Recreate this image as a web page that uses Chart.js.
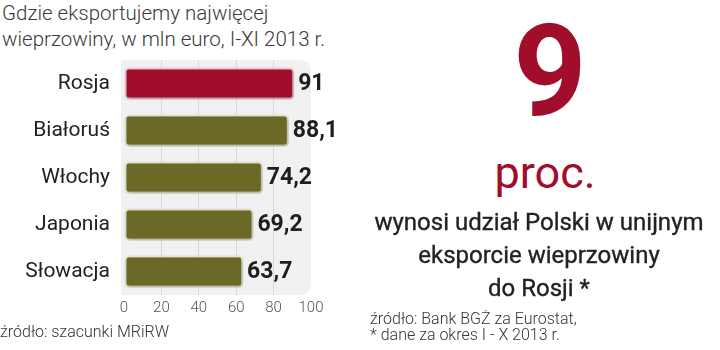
<!DOCTYPE html>
<html lang="pl">
<head>
<meta charset="utf-8">
<script src="https://cdn.jsdelivr.net/npm/chart.js@4/dist/chart.umd.min.js"></script>
<style>
  html, body { margin: 0; padding: 0; background: #fff; }
  #wrap { position: relative; width: 720px; height: 350px; overflow: hidden; font-family: Roboto, "Liberation Sans", sans-serif; }
  #chartBox { position: absolute; left: 0; top: 0; width: 360px; height: 350px; }
  .title { position: absolute; left: 2px; top: 0px; font-size: 20.5px; font-weight: 300; color: #3a3a3a; line-height: 26px; white-space: nowrap; }
  .srcL { position: absolute; left: 0; top: 322px; font-size: 16px; font-weight: 300; color: #333; white-space: nowrap; }
  .big { position: absolute; left: 440px; width: 220px; text-align: center; top: 6px; font-size: 128px; line-height: 130px; font-weight: 700; color: #a20d2b; font-family: "Liberation Sans Narrow", Roboto, sans-serif; }
  .proc { position: absolute; left: 445px; width: 200px; text-align: center; top: 147px; font-size: 45px; line-height: 52px; font-weight: 400; color: #a20d2b; font-family: "Liberation Sans Narrow", Roboto, sans-serif; }
  .desc { position: absolute; left: 359px; width: 360px; text-align: center; top: 206px; font-size: 24px; line-height: 33px; font-weight: 400; color: #222; white-space: nowrap; -webkit-text-stroke: 0.35px #222; }
  .srcR { position: absolute; left: 370px; top: 311px; font-size: 16px; line-height: 16px; font-weight: 300; color: #333; white-space: nowrap; }
</style>
</head>
<body>
<div id="wrap">
  <div class="title">Gdzie eksportujemy najwięcej<br>wieprzowiny, w mln euro, I-XI 2013 r.</div>
  <div id="chartBox"><canvas id="c"></canvas></div>
  <div class="srcL">źródło: szacunki MRiRW</div>
  <div class="big">9</div>
  <div class="proc">proc.</div>
  <div class="desc">wynosi udział Polski w unijnym<br>eksporcie wieprzowiny<br>do Rosji *</div>
  <div class="srcR">źródło: Bank BGŻ za Eurostat,<br>* dane za okres I - X 2013 r.</div>
</div>
<script>
// Export of pork by destination, EUR million, Jan–Nov 2013
const countries = ['Rosja', 'Białoruś', 'Włochy', 'Japonia', 'Słowacja'];
const exportValues = [91, 88.1, 74.2, 69.2, 63.7];
const axisTicks = [0, 20, 40, 60, 80, 100];

const RED = '#a20d2b', OLIVE = '#6b6926';
const fills = countries.map((c, i) => i === 0 ? RED : OLIVE);
const edges = countries.map((c, i) => i === 0 ? '#f3d3d9' : '#f0ecd2');

// light panel behind the plot area
const panelBg = {
  id: 'panelBg',
  beforeDraw(chart) {
    const { ctx, chartArea: a } = chart;
    const x = a.left - 3, y = a.top, w = a.right - x, h = a.bottom - y, r = 12;
    ctx.save();
    ctx.fillStyle = '#f1f1f1';
    ctx.beginPath();
    ctx.moveTo(x, y);
    ctx.lineTo(x + w - r, y);
    ctx.quadraticCurveTo(x + w, y, x + w, y + r);
    ctx.lineTo(x + w, y + h - r);
    ctx.quadraticCurveTo(x + w, y + h, x + w - r, y + h);
    ctx.lineTo(x, y + h);
    ctx.closePath();
    ctx.fill();
    ctx.restore();
  }
};

// soft drop shadow under bars + value labels at bar ends
const barExtras = {
  id: 'barExtras',
  beforeDatasetsDraw(chart) {
    const ctx = chart.ctx;
    ctx.save();
    ctx.shadowColor = 'rgba(0,0,0,0.35)';
    ctx.shadowBlur = 4;
    ctx.shadowOffsetX = 1;
    ctx.shadowOffsetY = 1.5;
  },
  afterDatasetsDraw(chart) {
    const ctx = chart.ctx;
    ctx.restore();
    const meta = chart.getDatasetMeta(0);
    ctx.save();
    ctx.font = '700 23px Roboto, "Liberation Sans", sans-serif';
    ctx.fillStyle = '#1e1e1e';
    ctx.textAlign = 'left';
    ctx.textBaseline = 'middle';
    meta.data.forEach((bar, i) => {
      const v = chart.data.datasets[0].data[i];
      ctx.fillText(String(v).replace('.', ','), bar.x + 4, bar.y + 1);
    });
    ctx.restore();
  }
};

new Chart(document.getElementById('c'), {
  type: 'bar',
  data: {
    labels: countries,
    datasets: [{
      data: exportValues,
      backgroundColor: fills,
      borderColor: edges,
      borderWidth: 2,
      borderRadius: 4,
      borderSkipped: false,
      barPercentage: 0.68,
      categoryPercentage: 1
    }]
  },
  options: {
    indexAxis: 'y',
    responsive: true,
    maintainAspectRatio: false,
    animation: false,
    layout: { padding: { top: 60, right: 49, left: 0, bottom: 0 } },
    plugins: { legend: { display: false }, tooltip: { enabled: false } },
    scales: {
      x: {
        min: 0, max: 100,
        afterBuildTicks(scale) { scale.ticks = axisTicks.map(v => ({ value: v })); },
        afterFit(scale) { scale.height = 55; },
        border: { display: false },
        grid: {
          drawTicks: false,
          color: ctx => (ctx.tick && (ctx.tick.value === 0 || ctx.tick.value === 100)) ? 'rgba(0,0,0,0)' : '#d8d8d8',
          lineWidth: 1
        },
        ticks: {
          padding: 4,
          color: '#555',
          font: { family: 'Roboto, "Liberation Sans", sans-serif', size: 15, weight: '300' }
        }
      },
      y: {
        afterFit(scale) { scale.width = 124; },
        border: { display: false },
        grid: { display: false, drawTicks: false },
        ticks: {
          padding: 14,
          color: '#222',
          font: { family: 'Roboto, "Liberation Sans", sans-serif', size: 21, weight: '400' }
        }
      }
    }
  },
  plugins: [panelBg, barExtras]
});
</script>
</body>
</html>
